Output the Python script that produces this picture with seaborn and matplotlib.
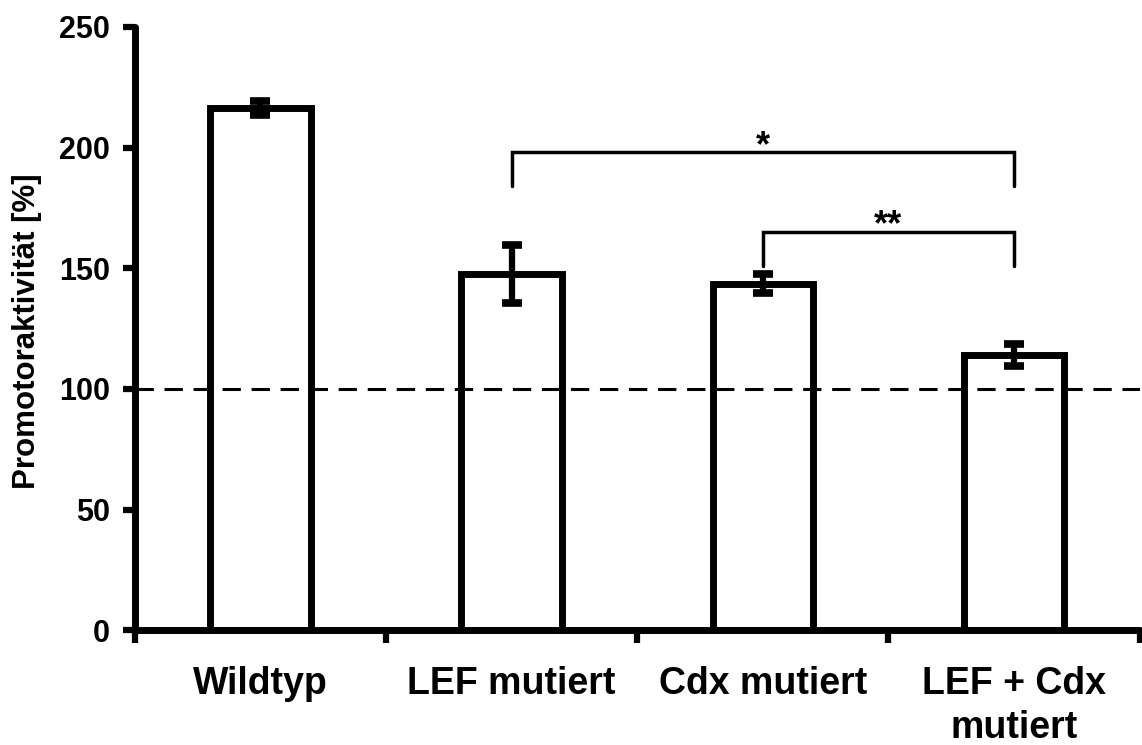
import matplotlib
matplotlib.use('Agg')
import matplotlib.pyplot as plt
import seaborn as sns
import pandas as pd

# values
categories = ['Wildtyp', 'LEF mutiert', 'Cdx mutiert', 'LEF + Cdx\nmutiert']
activity = [216.3, 147.5, 143.6, 114.0]
errors = [3.0, 12.0, 3.8, 4.7]
y_ticks = [0, 50, 100, 150, 200, 250]
# significance brackets: (left bar, right bar, bracket height, leg bottom, label)
brackets = [(1, 3, 198, 184, '*'), (2, 3, 165, 151, '**')]

df = pd.DataFrame({'Gruppe': categories, 'Aktivitaet': activity})

sns.set_style('ticks')
plt.rcParams['font.family'] = ['Liberation Sans', 'DejaVu Sans']
plt.rcParams['font.weight'] = 'bold'
for key in ['text.color', 'axes.labelcolor', 'xtick.color', 'ytick.color', 'axes.edgecolor']:
    plt.rcParams[key] = 'black'

fig = plt.figure(figsize=(11.42, 7.45), dpi=100)
ax = fig.add_axes([0.118, 0.154, 0.880, 0.810])

sns.barplot(data=df, x='Gruppe', y='Aktivitaet', color='white', width=0.4,
            edgecolor='black', linewidth=5, errorbar=None, ax=ax)

ax.errorbar(range(len(categories)), activity, yerr=errors, fmt='none',
            ecolor='black', elinewidth=4.5, capsize=7.5, capthick=5.5,
            solid_capstyle='round', zorder=5)

# reference line at 100 %
ax.axhline(100, color='black', linestyle=(0, (6, 3.5)), linewidth=2.2, zorder=1)

for x0, x1, top, leg, label in brackets:
    ax.plot([x0, x0, x1, x1], [leg, top, top, leg], color='black', lw=2.5,
            solid_joinstyle='miter')
    ax.text((x0 + x1) / 2, top - 1.5, label, ha='center', va='baseline',
            fontsize=26, fontweight='bold')

ax.set_xlim(-0.5, 3.5)
ax.set_ylim(0, 250)
ax.set_yticks(y_ticks)
ax.set_xticks([-0.5, 0.5, 1.5, 2.5, 3.5], minor=False)
ax.set_xticklabels([])
ax.set_xticks(range(len(categories)), minor=True)
ax.set_xticklabels(categories, minor=True, fontsize=27, fontweight='bold',
                   linespacing=1.28)
ax.tick_params(axis='x', which='minor', length=0, pad=26)
ax.tick_params(axis='x', which='major', length=9, width=4.5, direction='out')
ax.tick_params(axis='y', length=9, width=4.5, direction='out', labelsize=22, pad=9)
for lab in ax.get_yticklabels():
    lab.set_fontweight('bold')

ax.set_xlabel('')
ax.set_ylabel('Promotoraktivität [%]', fontsize=22.5, fontweight='bold')
ax.yaxis.set_label_coords(-0.092, 0.495)

sns.despine(ax=ax)
ax.spines['left'].set_linewidth(5)
ax.spines['bottom'].set_linewidth(5)
ax.spines['left'].set_capstyle('round')
ax.spines['bottom'].set_capstyle('round')

fig.savefig('out.png', dpi=100)
